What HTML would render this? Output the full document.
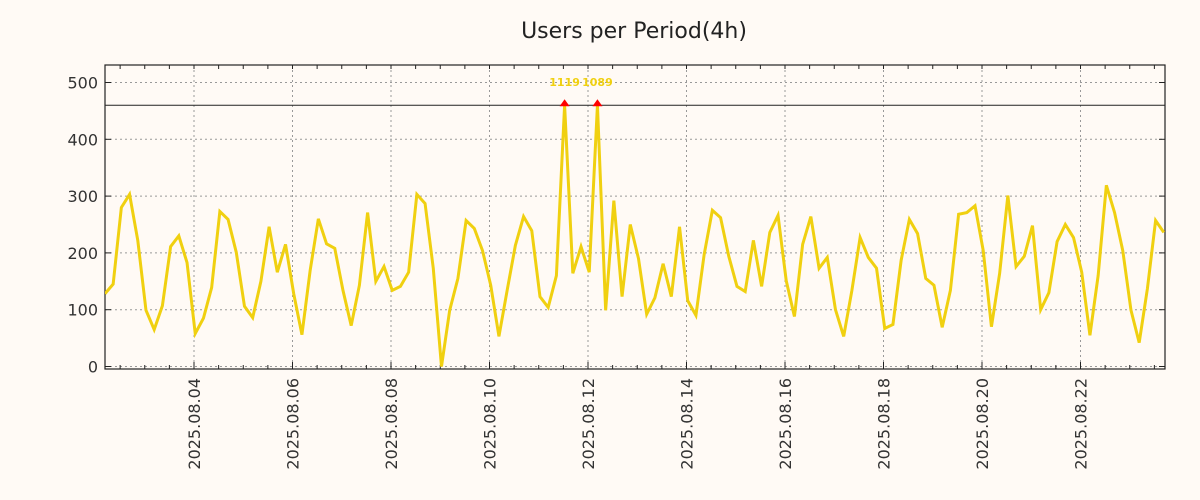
<!DOCTYPE html>
<html><head><meta charset="utf-8"><style>
body{margin:0;background:#fffaf5;}
svg{display:block;font-family:"DejaVu Sans","Liberation Sans",sans-serif;}
</style></head><body>
<svg id="chart" width="1200" height="500">
<rect width="1200" height="500" fill="#fffaf5"/>
<text x="634" y="38" font-size="22" text-anchor="middle" fill="#222">Users per Period(4h)</text>
<g id="grid"></g><g id="axes"></g><g id="series"></g>
</svg>
<script>
const values=[128,145,280,303,222,99,65,107,211,230,183,58,85,139,273,259,201,106,86,150,246,166,215,128,56,169,260,216,208,134,72,143,271,150,176,134,141,166,303,287,173,0,99,155,257,243,204,143,53,134,213,264,239,123,104,160,1119,164,211,166,1089,99,292,123,250,190,92,121,181,123,246,116,90,197,275,262,194,141,132,222,141,236,266,151,88,215,264,173,192,100,53,134,227,192,173,67,74,187,259,234,155,143,69,134,268,271,283,204,70,164,301,176,194,248,100,130,220,250,227,166,55,160,319,271,204,99,42,137,257,236];
const yTicks=[0,100,200,300,400,500];
const xTickLabels=["2025.08.04","2025.08.06","2025.08.08","2025.08.10","2025.08.12","2025.08.14","2025.08.16","2025.08.18","2025.08.20","2025.08.22"];
const capValue=460;
const NS="http://www.w3.org/2000/svg";
const L=105,R=1165,T=65,B=369;
const startHour=-43.4, stepHour=4, pxPerDay=49.25, day0X=194;
function xDay(d){return day0X+d*pxPerDay;}
function xIdx(i){return xDay((startHour+i*stepHour)/24);}
function y(v){return 366.5-v*0.568;}
function mk(tag,attrs,parent){const e=document.createElementNS(NS,tag);for(const k in attrs)e.setAttribute(k,attrs[k]);parent.appendChild(e);return e;}
const grid=document.getElementById('grid'),axes=document.getElementById('axes'),ser=document.getElementById('series');
yTicks.forEach(v=>{
 const l=mk('line',{x1:L,x2:R,y1:y(v),y2:y(v),stroke:'#999','stroke-dasharray':'2,3'},grid);
 
 
 mk('line',{x1:L,x2:L+6,y1:y(v),y2:y(v),stroke:'#222'},axes);
 mk('line',{x1:R-6,x2:R,y1:y(v),y2:y(v),stroke:'#222'},axes);
 const t=mk('text',{x:98,y:y(v)+6,'font-size':16,'text-anchor':'end',fill:'#333'},axes);
 t.textContent=v;
 
 
});
for(let h=-3;h<=40;h++){const x=xDay(h/2);if(x<L||x>R)continue;
 mk('line',{x1:x,x2:x,y1:B,y2:B-4,stroke:'#222'},axes);
 mk('line',{x1:x,x2:x,y1:T,y2:T+4,stroke:'#222'},axes);}
xTickLabels.forEach((lab,i)=>{const x=xDay(i*2);
 const g=mk('line',{x1:x,x2:x,y1:T,y2:B,stroke:'#999','stroke-dasharray':'2,3'},grid);
 
 
 mk('line',{x1:x,x2:x,y1:B,y2:B-7,stroke:'#222'},axes);
 const t=mk('text',{x:0,y:0,'font-size':16,'text-anchor':'end',fill:'#333',transform:`translate(${x+6},378) rotate(-90)`},axes);
 t.textContent=lab;
 
 
});
const frame=mk('rect',{x:L,y:T,width:R-L,height:B-T,fill:'none',stroke:'#222','stroke-width':1.2},axes);


const cap=mk('line',{x1:L,x2:R,y1:y(capValue),y2:y(capValue),stroke:'#222','stroke-width':1},axes);


const pts=values.map((v,i)=>[xIdx(i),y(Math.min(v,capValue))]);
const cp=mk('clipPath',{id:'clip'},ser);mk('rect',{x:L,y:T,width:R-L,height:B-T+3},cp);
const line=mk('polyline',{points:pts.map(p=>p.join(',')).join(' '),fill:'none',stroke:'#f0d010','stroke-width':3,'stroke-linejoin':'miter','clip-path':'url(#clip)'},ser);


values.forEach((v,i)=>{if(v>capValue){const x=xIdx(i),yy=y(capValue);
 const m=mk('polygon',{points:`${x-5},${yy+1} ${x+5},${yy+1} ${x},${yy-6}`,fill:'#f00'},ser);
 
 
 const t=mk('text',{x:x,y:86,'font-size':11,'font-weight':'bold','text-anchor':'middle',fill:'#f0d010'},ser);
 t.textContent=v;
 
 
}});
</script>
</body></html>
